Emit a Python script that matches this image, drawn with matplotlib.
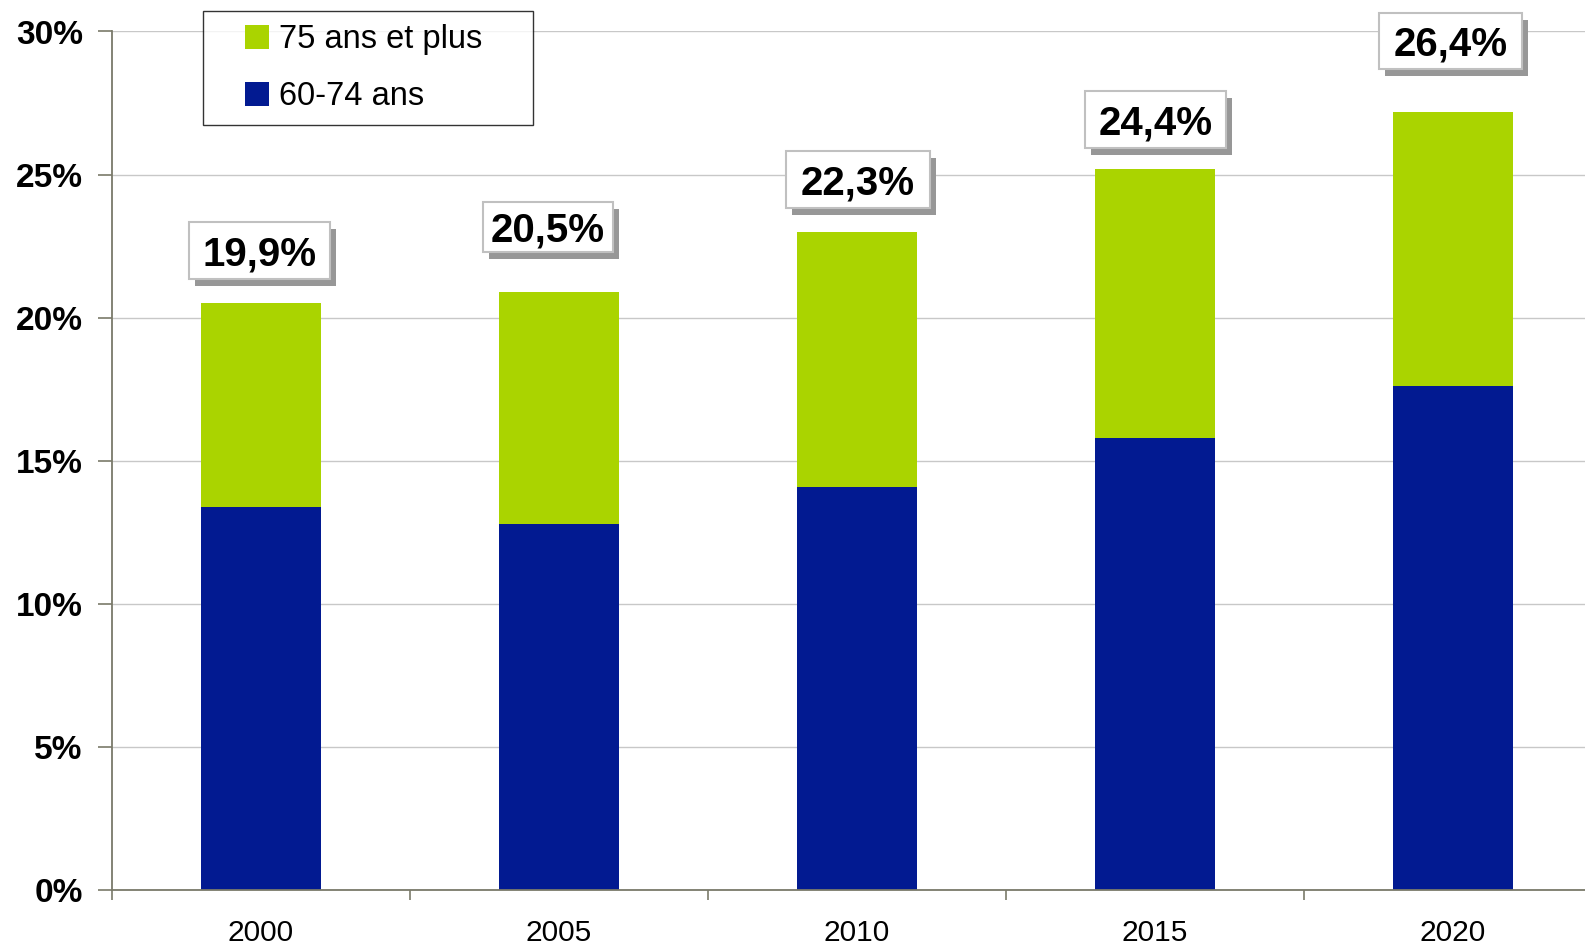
import matplotlib
matplotlib.use("Agg")
import matplotlib.pyplot as plt
from matplotlib.patches import Patch, Rectangle
from matplotlib.legend_handler import HandlerPatch
from matplotlib.transforms import IdentityTransform
from matplotlib.ticker import FuncFormatter, MultipleLocator
import numpy as np

plt.rcParams['font.family'] = ['Liberation Sans', 'DejaVu Sans']

years = ["2000", "2005", "2010", "2015", "2020"]
age_60_74 = [13.4, 12.8, 14.1, 15.8, 17.6]
age_75_plus = [7.1, 8.1, 8.9, 9.4, 9.6]
total_labels = ["19,9%", "20,5%", "22,3%", "24,4%", "26,4%"]
series_names = ["75 ans et plus", "60-74 ans"]

# label box layout (not data): centre in data units, size in pixels
label_y = [22.35, 23.17, 24.83, 26.92, 29.67]
label_dx = [-0.005, -0.037, 0.003, 0.002, -0.008]
box_w = [141, 130, 144, 141, 143]
box_h = [57, 50, 57, 57, 56]

green = "#AAD400"
blue = "#021A91"
spine_col = "#7A7A6A"

W, H = 1585, 947
fig = plt.figure(figsize=(W/100, H/100), dpi=100)
ax = fig.add_axes([112/W, 1-890/H, 5*298/W, (890-31.5)/H])

x = np.arange(len(years))
w = 0.406
ax.bar(x, age_60_74, w, color=blue, zorder=2)
ax.bar(x, age_75_plus, w, bottom=age_60_74, color=green, zorder=2)

ax.set_xlim(-0.5, len(years) - 0.5)
ax.set_ylim(0, 30)
ax.yaxis.set_major_locator(MultipleLocator(5))
ax.yaxis.set_major_formatter(FuncFormatter(lambda v, p: f"{int(round(v))}%"))
ax.grid(axis='y', color="#C8C8C8", linewidth=1.0, zorder=0)
ax.set_axisbelow(True)

for s in ['top', 'right']:
    ax.spines[s].set_visible(False)
for s in ['left', 'bottom']:
    ax.spines[s].set_color(spine_col)
    ax.spines[s].set_linewidth(1.3)

ax.set_xticks(x)
ax.set_xticklabels(years, fontsize=21.5)
ax.set_xticks(np.arange(len(years) + 1) - 0.5, minor=True)
ax.tick_params(axis='x', which='major', length=0, pad=21)
ax.tick_params(axis='x', which='minor', length=10*0.72, width=1.2, color=spine_col, direction='out')
ax.tick_params(axis='y', which='major', length=14*0.72, width=1.2, color=spine_col, pad=11, labelsize=24)
for t in ax.get_yticklabels():
    t.set_fontweight('bold')

# total labels in boxes with drop shadow
for i, lab in enumerate(total_labels):
    cx, cy = ax.transData.transform((x[i] + label_dx[i], label_y[i]))
    bw, bh = box_w[i], box_h[i]
    fig.add_artist(Rectangle((cx - bw/2 + 6, cy - bh/2 - 7), bw, bh, transform=IdentityTransform(),
                             facecolor='#979797', edgecolor='none', zorder=4))
    fig.add_artist(Rectangle((cx - bw/2, cy - bh/2), bw, bh, transform=IdentityTransform(),
                             facecolor='white', edgecolor='#C0C0C0', linewidth=1.5, zorder=5))
    fig.text(cx, cy - 15, lab, transform=IdentityTransform(), ha='center', va='baseline',
             fontsize=29, fontweight='bold', color='black', zorder=6)

# legend
SQ = 24 * 0.72  # square size in points


def square_patch(legend, orig_handle, xdescent, ydescent, width, height, fontsize):
    return Rectangle((-xdescent + width - SQ, -ydescent + (height - SQ) / 2), SQ, SQ)


handles = [Patch(facecolor=green, edgecolor='none'), Patch(facecolor=blue, edgecolor='none')]
leg = fig.legend(handles, series_names, loc='upper left',
                 bbox_to_anchor=(203/W, 1-122/H, 330/W, 111/H), bbox_transform=fig.transFigure,
                 mode='expand', fontsize=23.5, frameon=True, fancybox=False, borderaxespad=0,
                 handlelength=1.63, handleheight=0.74, handletextpad=0.3,
                 labelspacing=0.8, borderpad=0.4,
                 handler_map={Patch: HandlerPatch(patch_func=square_patch)})
leg.get_frame().set_edgecolor('black')
leg.get_frame().set_linewidth(1.0)

fig.savefig("out.png", dpi=100)
